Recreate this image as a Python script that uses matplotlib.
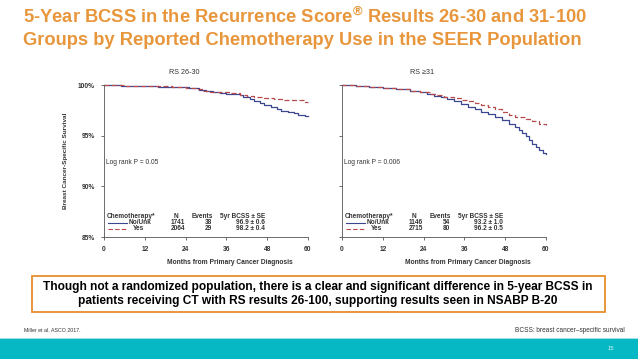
import matplotlib
matplotlib.use("Agg")
import matplotlib.pyplot as plt
from matplotlib.patches import Rectangle

W, H = 638, 359
plt.rcParams['font.family'] = ['Liberation Sans', 'DejaVu Sans']

# ---- data ----
title_lines = ["5-Year BCSS in the Recurrence Score$^{\\mathregular{\u00ae}}$ Results 26-30 and 31-100",
               "Groups by Reported Chemotherapy Use in the SEER Population"]
xticks = [0, 12, 24, 36, 48, 60]
yticks = [85, 90, 95, 100]
ytick_labels = ["85%", "90%", "95%", "100%"]

left_no_t = [0, 5, 10, 16, 22, 25, 28, 30, 32, 34, 36, 38, 40, 41, 43, 44, 46, 47, 49, 51, 52, 54, 56, 57, 59, 60]
left_no_s = [100, 99.95, 99.9, 99.85, 99.8, 99.7, 99.55, 99.4, 99.3, 99.2, 99.15, 99.1, 99.0, 98.8, 98.6,
             98.4, 98.2, 98.0, 97.8, 97.6, 97.4, 97.3, 97.2, 97.05, 96.9, 96.9]
left_yes_t = [0, 6, 14, 20, 24, 27, 29, 31, 34, 37, 40, 42, 44, 47, 50, 53, 56, 59, 60]
left_yes_s = [100, 99.92, 99.9, 99.85, 99.75, 99.6, 99.45, 99.35, 99.3, 99.2, 99.05, 98.9, 98.8, 98.75,
              98.6, 98.55, 98.5, 98.3, 98.3]

right_no_t = [0, 4, 8, 12, 16, 20, 23, 25, 27, 29, 31, 33, 35, 37, 39, 41, 43, 45, 47, 49, 51, 52, 53,
              54, 55, 56, 57, 58, 59, 60]
right_no_s = [100, 99.95, 99.85, 99.7, 99.6, 99.45, 99.3, 99.1, 98.95, 98.8, 98.65, 98.4, 98.1, 97.85,
              97.6, 97.35, 97.1, 96.8, 96.5, 96.2, 95.9, 95.6, 95.3, 95.0, 94.6, 94.2, 93.9, 93.6, 93.3, 93.2]
right_yes_t = [0, 4, 8, 12, 16, 20, 23, 26, 28, 30, 33, 35, 37, 39, 41, 43, 45, 47, 49, 51, 54, 56, 58, 60]
right_yes_s = [100, 99.95, 99.85, 99.7, 99.6, 99.45, 99.3, 99.15, 99.0, 98.85, 98.7, 98.55, 98.4, 98.25,
               98.05, 97.85, 97.6, 97.3, 97.0, 96.8, 96.6, 96.4, 96.2, 96.1]

panel_titles = ["RS 26-30", "RS \u226531"]
logrank = ["Log rank P = 0.05", "Log rank P = 0.006"]
legend_header = ["Chemotherapy*", "N", "Events", "5yr BCSS \u00b1 SE"]
groups = ["No/Unk", "Yes"]
n_vals = [["1741", "2064"], ["1146", "2715"]]
events = [["38", "29"], ["54", "80"]]
bcss = [["96.9 \u00b1 0.6", "98.2 \u00b1 0.4"], ["93.2 \u00b1 1.0", "96.2 \u00b1 0.5"]]

ORANGE = "#E8963C"
NAVY = "#3B4790"
RED = "#B94A4C"
GREY = "#333333"

fig = plt.figure(figsize=(W / 100, H / 100), dpi=100)
fig.patch.set_facecolor("white")

def fx(px):
    return px / W

def fy(py):
    return 1 - py / H

# title
fig.text(fx(23), fy(23), title_lines[0], color=ORANGE, fontsize=13.2, fontweight="bold", va="baseline")
fig.text(fx(23), fy(45), title_lines[1], color=ORANGE, fontsize=13.2, fontweight="bold", va="baseline")

panels = [
    (104, left_no_t, left_no_s, left_yes_t, left_yes_s),
    (342, right_no_t, right_no_s, right_yes_t, right_yes_s),
]
for i, (x0, nt, ns, yt, ys) in enumerate(panels):
    ax = fig.add_axes([fx(x0), fy(237), fx(204), (237 - 85) / H])
    ax.step(nt, ns, where="post", color=NAVY, lw=0.9, clip_on=False)
    ax.step(yt, ys, where="post", color=RED, lw=0.9, ls=(0, (4, 2)), clip_on=False)
    ax.set_xlim(0, 60)
    ax.set_ylim(85, 100)
    ax.set_xticks(xticks)
    ax.set_yticks(yticks)
    for s in ["top", "right"]:
        ax.spines[s].set_visible(False)
    for s in ["left", "bottom"]:
        ax.spines[s].set_color("#555555")
        ax.spines[s].set_linewidth(0.6)
    ax.tick_params(length=2.5, width=0.6, color="#555555", labelsize=4.8, pad=4, labelcolor=GREY)
    ax.set_xticklabels([str(t) for t in xticks], fontweight="bold")
    if i == 0:
        ax.set_yticklabels(ytick_labels, fontweight="bold")
    else:
        ax.set_yticklabels([])
    ax.patch.set_alpha(0)
    # panel title
    fig.text(fx(x0 + 80), fy(72), panel_titles[i], fontsize=5.2, ha="center", va="center", color=GREY)
    # log rank
    fig.text(fx(x0 + 2), fy(162), logrank[i], fontsize=4.8, ha="left", va="center", color=GREY)
    # x label
    fig.text(fx(x0 + 126), fy(263), "Months from Primary Cancer Diagnosis", fontsize=4.8,
             fontweight="bold", ha="center", va="center", color=GREY)
    # legend table
    hy = 217
    fs = 4.7
    fig.text(fx(x0 + 3), fy(hy), legend_header[0], fontsize=fs, fontweight="bold", ha="left", va="center", color=GREY)
    fig.text(fx(x0 + 72), fy(hy), legend_header[1], fontsize=fs, fontweight="bold", ha="center", va="center", color=GREY)
    fig.text(fx(x0 + 98), fy(hy), legend_header[2], fontsize=fs, fontweight="bold", ha="center", va="center", color=GREY)
    fig.text(fx(x0 + 161), fy(hy), legend_header[3], fontsize=fs, fontweight="bold", ha="right", va="center", color=GREY)
    for r in range(2):
        yy = 223 + 6 * r
        ls = "-" if r == 0 else (0, (4, 2))
        col = NAVY if r == 0 else RED
        fig.add_artist(plt.Line2D([fx(x0 + 4), fx(x0 + 23)], [fy(yy), fy(yy)], color=col, lw=0.8, ls=ls))
        fig.text(fx(x0 + 25 + (0 if r == 0 else 4)), fy(yy), groups[r], fontsize=fs, fontweight="bold",
                 ha="left", va="center", color=GREY)
        fig.text(fx(x0 + 81), fy(yy), n_vals[i][r], fontsize=fs, fontweight="bold", ha="right", va="center", color=GREY)
        fig.text(fx(x0 + 108), fy(yy), events[i][r], fontsize=fs, fontweight="bold", ha="right", va="center", color=GREY)
        fig.text(fx(x0 + 161), fy(yy), bcss[i][r], fontsize=fs, fontweight="bold", ha="right", va="center", color=GREY)

# y axis label
fig.text(fx(66), fy(161), "Breast Cancer-Specific Survival", fontsize=4.6, fontweight="bold",
         rotation=90, ha="center", va="center", color=GREY)

# conclusion box
fig.add_artist(Rectangle((fx(32), fy(312)), fx(605 - 32), (312 - 276) / H, transform=fig.transFigure,
                         facecolor="white", edgecolor=ORANGE, lw=1.4))
fig.text(fx(318), fy(287), "Though not a randomized population, there is a clear and significant difference in 5-year BCSS in",
         fontsize=8.6, fontweight="bold", ha="center", va="center", color="black")
fig.text(fx(318), fy(301), "patients receiving CT with RS results 26-100, supporting results seen in NSABP B-20",
         fontsize=8.6, fontweight="bold", ha="center", va="center", color="black")

# footnotes
fig.text(fx(24), fy(330), "Miller et al. ASCO 2017.", fontsize=3.8, ha="left", va="center", color="#333333")
fig.text(fx(625), fy(330), "BCSS: breast cancer\u2013specific survival", fontsize=4.7, ha="right", va="center", color="#333333")

# teal band
fig.add_artist(Rectangle((0, 0), 1, (359 - 339) / H, transform=fig.transFigure, facecolor="#05B8C4", edgecolor="none"))
fig.add_artist(Rectangle((0, (359 - 339) / H), 1, 1.5 / H, transform=fig.transFigure, facecolor="#9FE0E6", edgecolor="none"))
fig.text(fx(611), fy(349), "15", fontsize=4.2, ha="center", va="center", color="#D9F4F6")

fig.savefig("out.png", dpi=100, facecolor="white")
